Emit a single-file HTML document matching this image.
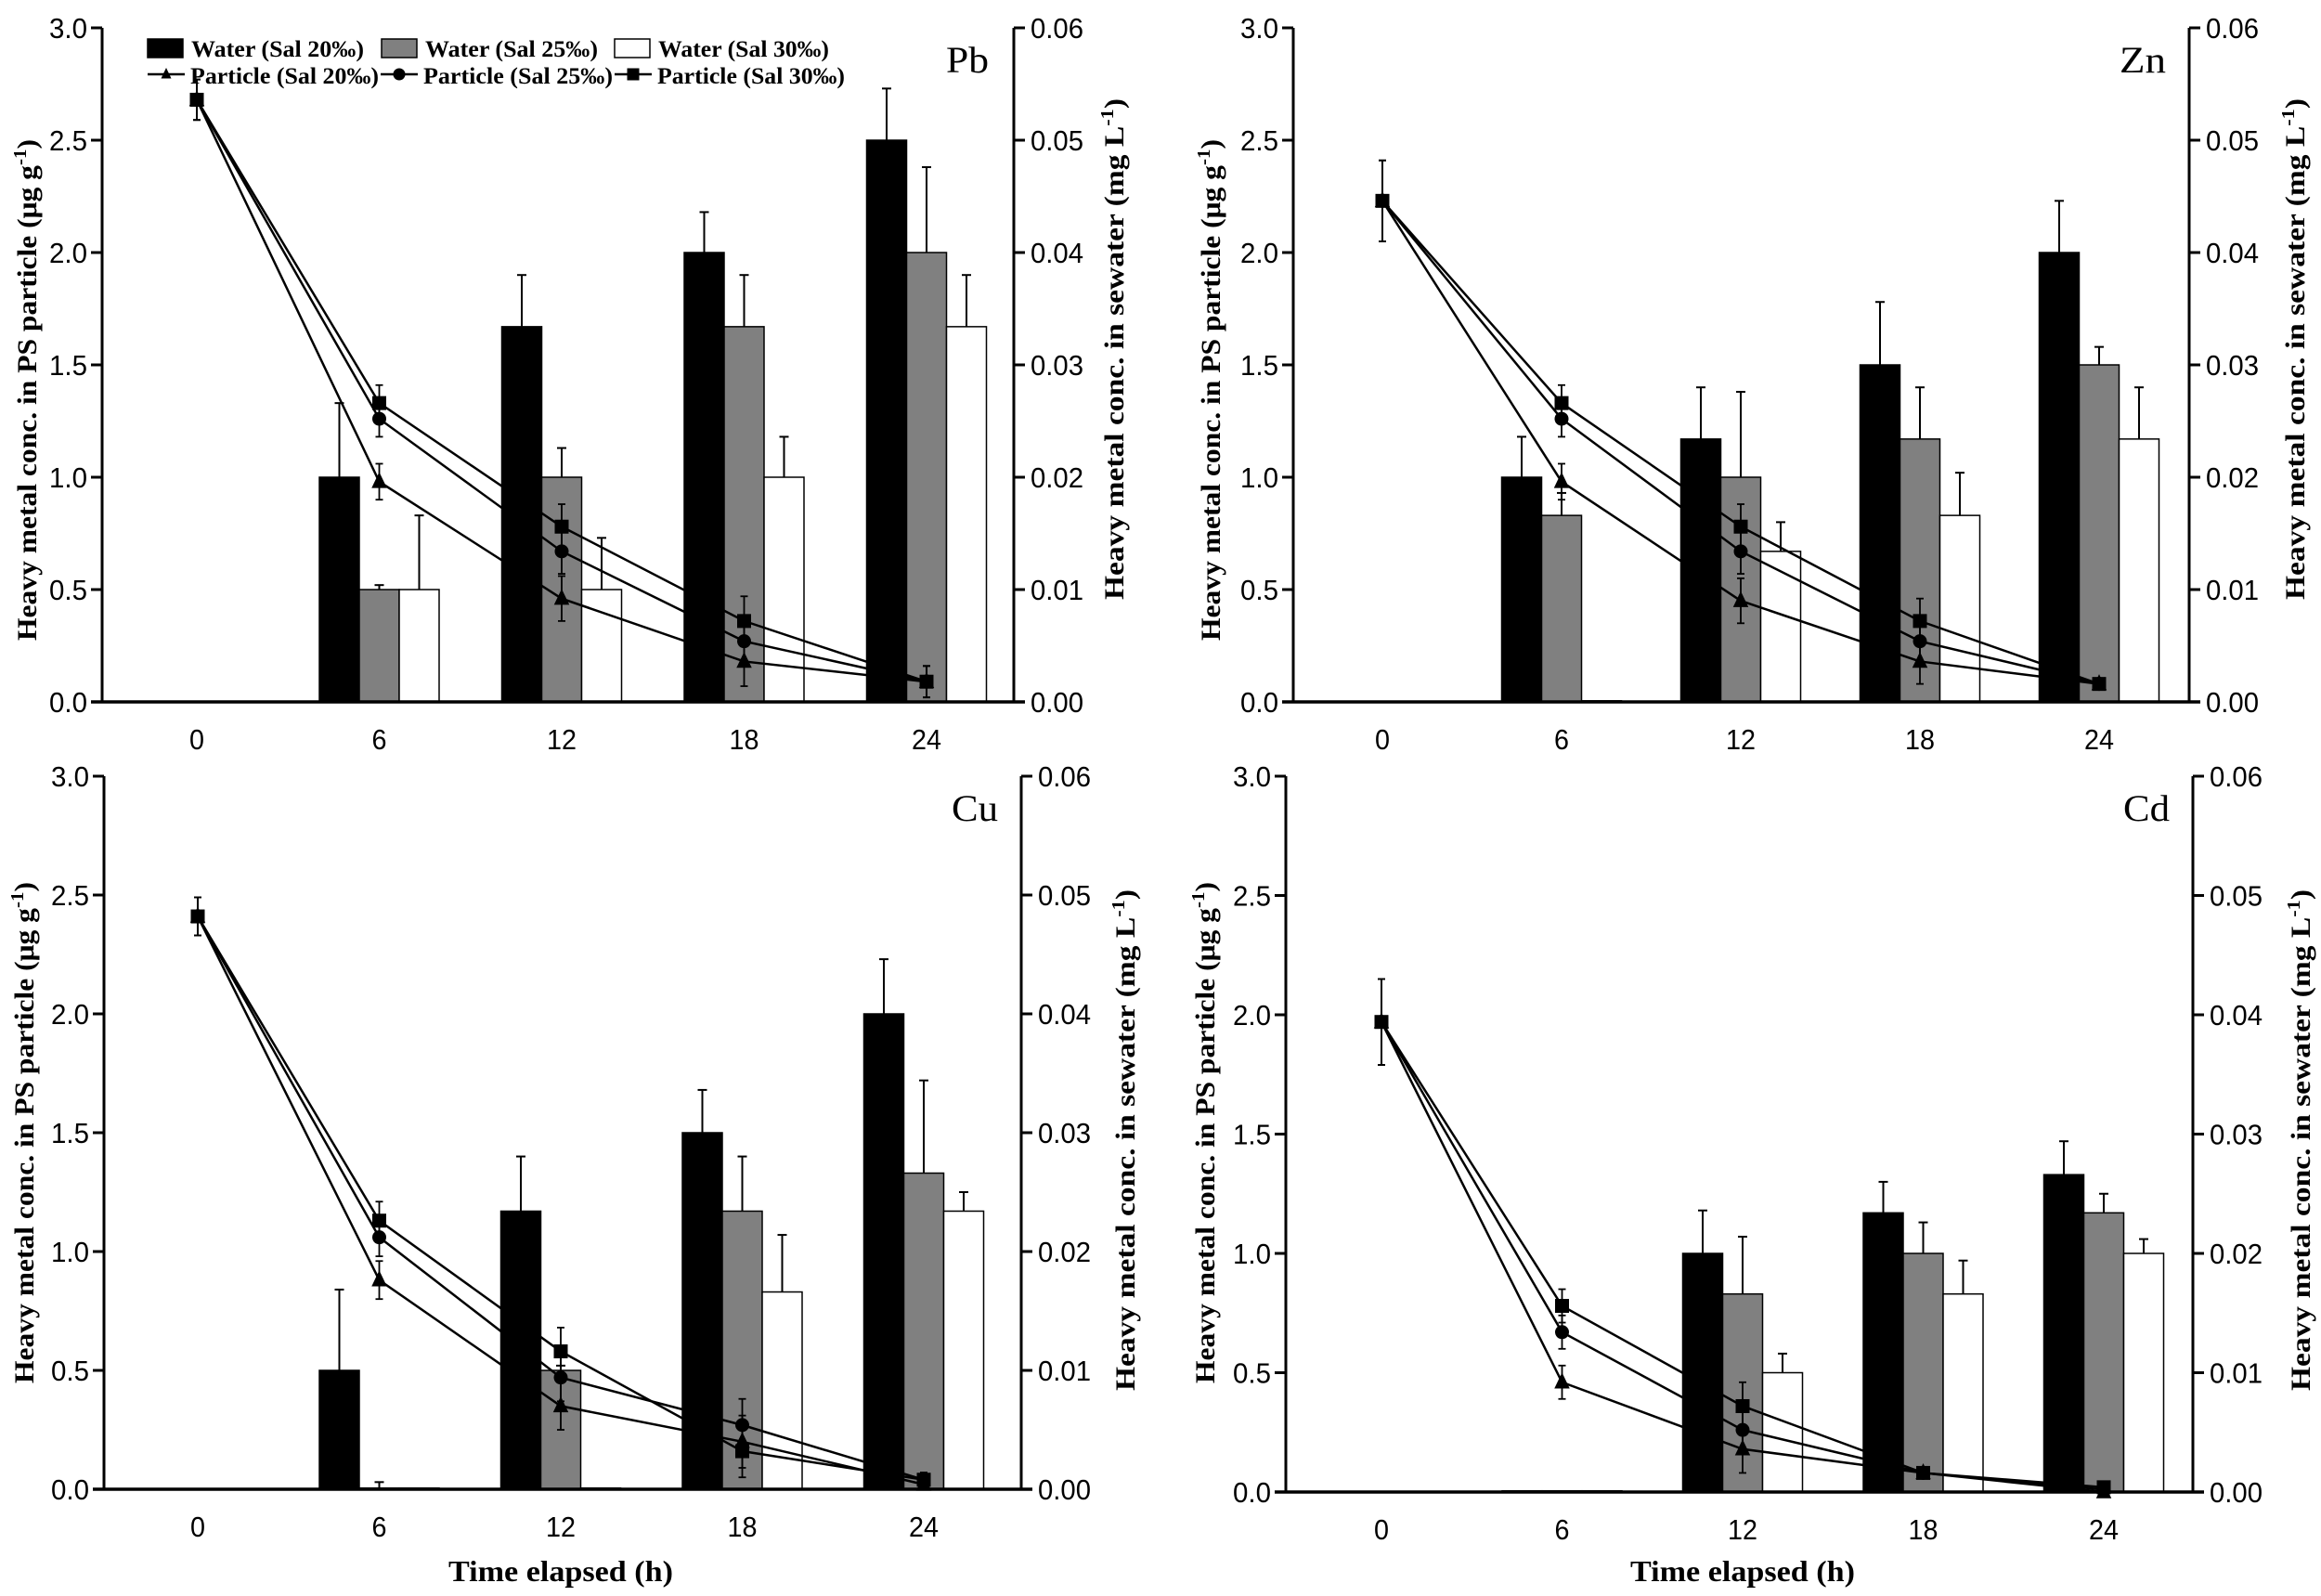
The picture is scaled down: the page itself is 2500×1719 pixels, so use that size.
<!DOCTYPE html>
<html><head><meta charset="utf-8"><style>
html,body{margin:0;padding:0;background:#fff;}
svg{display:block;}
</style></head><body>
<svg id="fig" width="2500" height="1719" viewBox="0 0 2500 1719" xmlns="http://www.w3.org/2000/svg"></svg>
<script>
// ---- data ----
const times = [0, 6, 12, 18, 24];
const metals = ["Pb", "Zn", "Cu", "Cd"];
const leftTicks = ["0.0","0.5","1.0","1.5","2.0","2.5","3.0"];
const rightTicks = ["0.00","0.01","0.02","0.03","0.04","0.05","0.06"];
const seriesNames = ["Sal 20‰","Sal 25‰","Sal 30‰"];

// water bars (left-axis units; right axis = value*0.02), null = no bar
const pbW20 = [null, 1.0, 1.67, 2.0, 2.5];
const pbW25 = [null, 0.5, 1.0, 1.67, 2.0];
const pbW30 = [null, 0.5, 0.5, 1.0, 1.67];
const pbW20e = [0, 1.33, 1.9, 2.18, 2.73];
const pbW25e = [0, 0.52, 1.13, 1.9, 2.38];
const pbW30e = [0, 0.83, 0.73, 1.18, 1.9];
const pbP20 = [2.68, 0.98, 0.46, 0.18, 0.09];
const pbP25 = [2.68, 1.26, 0.67, 0.27, 0.09];
const pbP30 = [2.68, 1.33, 0.78, 0.36, 0.09];
const pbPe = [0.09, 0.08, 0.10, 0.11, 0.07];

const znW20 = [null, 1.0, 1.17, 1.5, 2.0];
const znW25 = [null, 0.83, 1.0, 1.17, 1.5];
const znW30 = [null, 0.005, 0.67, 0.83, 1.17];
const znW20e = [0, 1.18, 1.4, 1.78, 2.23];
const znW25e = [0, 0.93, 1.38, 1.4, 1.58];
const znW30e = [0, 0.005, 0.8, 1.02, 1.4];
const znP20 = [2.23, 0.98, 0.45, 0.18, 0.08];
const znP25 = [2.23, 1.26, 0.67, 0.27, 0.08];
const znP30 = [2.23, 1.33, 0.78, 0.36, 0.08];
const znPe = [0.18, 0.08, 0.1, 0.1, 0.02];

const cuW20 = [null, 0.5, 1.17, 1.5, 2.0];
const cuW25 = [null, 0.005, 0.5, 1.17, 1.33];
const cuW30 = [null, 0.005, 0.005, 0.83, 1.17];
const cuW20e = [0, 0.84, 1.4, 1.68, 2.23];
const cuW25e = [0, 0.03, 0.52, 1.4, 1.72];
const cuW30e = [0, 0.005, 0.005, 1.07, 1.25];
const cuP20 = [2.41, 0.88, 0.35, 0.2, 0.02];
const cuP25 = [2.41, 1.06, 0.47, 0.27, 0.04];
const cuP30 = [2.41, 1.13, 0.58, 0.16, 0.04];
const cuPe = [0.08, 0.08, 0.1, 0.11, 0.03];

const cdW20 = [null, 0.005, 1.0, 1.17, 1.33];
const cdW25 = [null, 0.005, 0.83, 1.0, 1.17];
const cdW30 = [null, 0.005, 0.5, 0.83, 1.0];
const cdW20e = [0, 0.005, 1.18, 1.3, 1.47];
const cdW25e = [0, 0.005, 1.07, 1.13, 1.25];
const cdW30e = [0, 0.005, 0.58, 0.97, 1.06];
const cdP20 = [1.97, 0.46, 0.18, 0.08, 0.0];
const cdP25 = [1.97, 0.67, 0.26, 0.08, 0.01];
const cdP30 = [1.97, 0.78, 0.36, 0.08, 0.02];
const cdPe = [0.18, 0.07, 0.1, 0.02, 0.01];

const NS = "http://www.w3.org/2000/svg";
const svg = document.getElementById("fig");
function mk(tag, attrs, parent) {
  const e = document.createElementNS(NS, tag);
  for (const k in attrs) e.setAttribute(k, attrs[k]);
  (parent || svg).appendChild(e);
  return e;
}
function tlen(s){let w=0;for(const c of s){w+=(c==='.')?9:16;}return w;}

const panels = [
  {name:"Pb", L:110, R:1092, y0:756, y3:30, x0:212, x24:998, ltx:29, rtx:1200, tcy:420, rcy:376,
   w:[pbW20,pbW25,pbW30], we:[pbW20e,pbW25e,pbW30e], p:[pbP20,pbP25,pbP30], pe:pbPe, legend:true, xlabel:false},
  {name:"Zn", L:1393, R:2358, y0:756, y3:30, x0:1489, x24:2261, ltx:1304, rtx:2472, tcy:420, rcy:376,
   w:[znW20,znW25,znW30], we:[znW20e,znW25e,znW30e], p:[znP20,znP25,znP30], pe:znPe, legend:false, xlabel:false},
  {name:"Cu", L:112, R:1100, y0:1604, y3:836, x0:213, x24:995, ltx:26, rtx:1212, tcy:1220, rcy:1228,
   w:[cuW20,cuW25,cuW30], we:[cuW20e,cuW25e,cuW30e], p:[cuP20,cuP25,cuP30], pe:cuPe, legend:false, xlabel:true},
  {name:"Cd", L:1385, R:2362, y0:1607, y3:836, x0:1488, x24:2266, ltx:1298, rtx:2478, tcy:1220, rcy:1228,
   w:[cdW20,cdW25,cdW30], we:[cdW20e,cdW25e,cdW30e], p:[cdP20,cdP25,cdP30], pe:cdPe, legend:false, xlabel:true}
];
const fills = ["#000","#808080","#fff"];

function marker(g, kind, x, y, s) {
  let m;
  if (kind===0) m = mk("polygon",{points:`${x},${y-s*0.7} ${x-s*0.55},${y+s*0.45} ${x+s*0.55},${y+s*0.45}`,fill:"#000"},g);
  else if (kind===1) m = mk("circle",{cx:x,cy:y,r:s*0.5,fill:"#000"},g);
  else m = mk("rect",{x:x-s*0.5,y:y-s*0.5,width:s,height:s,fill:"#000"},g);
  return m;
}

panels.forEach(P=>{
  const g = mk("g",{});
  
  
  const X = t => P.x0 + (P.x24-P.x0)*t/24;
  const Y = v => P.y0 - (P.y0-P.y3)*v/3;
  const bw = 43;

  // bars
  for (let s=0;s<3;s++){
    times.forEach((t,i)=>{
      const v = P.w[s][i]; if (v===null) return;
      const cx = X(t) + (s-1)*bw;
      const e = P.we[s][i];
      if (e > v + 0.01) {
        const eb = mk("g",{},g);
        
        
        mk("line",{x1:cx,y1:Y(v),x2:cx,y2:Y(e),stroke:"#000","stroke-width":2},eb);
        mk("line",{x1:cx-5,y1:Y(e),x2:cx+5,y2:Y(e),stroke:"#000","stroke-width":2},eb);
      }
      const r = mk("rect",{x:cx-bw/2,y:Y(v),width:bw,height:Math.max(Y(0)-Y(v),1.5),fill:fills[s],stroke:"#000","stroke-width":1.5},g);
      
      
    });
  }
  // lines
  for (let s=0;s<3;s++){
    const pts = times.map((t,i)=>X(t)+","+Y(P.p[s][i])).join(" ");
    const pl = mk("polyline",{points:pts,fill:"none",stroke:"#000","stroke-width":2.5},g);
    
    
    times.forEach((t,i)=>{
      const x=X(t), v=P.p[s][i], e=P.pe[i];
      mk("line",{x1:x,y1:Y(v+e),x2:x,y2:Y(Math.max(v-e,0)),stroke:"#000","stroke-width":1.8},g);
      mk("line",{x1:x-4,y1:Y(v+e),x2:x+4,y2:Y(v+e),stroke:"#000","stroke-width":1.8},g);
      mk("line",{x1:x-4,y1:Y(Math.max(v-e,0)),x2:x+4,y2:Y(Math.max(v-e,0)),stroke:"#000","stroke-width":1.8},g);
      const m = marker(g, s, x, Y(v), 15);
      
      
    });
  }
  // axes
  const ax = mk("g",{},g);
  
  
  mk("line",{x1:P.L,y1:P.y3,x2:P.L,y2:P.y0,stroke:"#000","stroke-width":3},ax);
  mk("line",{x1:P.R,y1:P.y3,x2:P.R,y2:P.y0,stroke:"#000","stroke-width":3},ax);
  mk("line",{x1:P.L-12,y1:P.y0,x2:P.R+12,y2:P.y0,stroke:"#000","stroke-width":3.5},ax);
  leftTicks.forEach((lab,i)=>{
    const y = Y(i*0.5);
    mk("line",{x1:P.L-12,y1:y,x2:P.L,y2:y,stroke:"#000","stroke-width":3},ax);
    const t = mk("text",{x:P.L-16,y:y+11,"text-anchor":"end","font-size":31,"font-family":"'Liberation Sans Narrow','Liberation Sans',sans-serif",textLength:tlen(lab),lengthAdjust:"spacingAndGlyphs"},ax);
    t.textContent = lab;
    
    
  });
  rightTicks.forEach((lab,i)=>{
    const y = Y(i*0.5);
    mk("line",{x1:P.R,y1:y,x2:P.R+12,y2:y,stroke:"#000","stroke-width":3},ax);
    const t = mk("text",{x:P.R+18,y:y+11,"font-size":31,"font-family":"'Liberation Sans Narrow','Liberation Sans',sans-serif",textLength:tlen(lab),lengthAdjust:"spacingAndGlyphs"},ax);
    t.textContent = lab;
    
    
  });
  times.forEach(tv=>{
    const lab = String(tv);
    const t = mk("text",{x:X(tv),y:P.y0+51,"text-anchor":"middle","font-size":31,"font-family":"'Liberation Sans Narrow','Liberation Sans',sans-serif",textLength:tlen(lab),lengthAdjust:"spacingAndGlyphs"},ax);
    t.textContent = lab;
    
    
  });
  // titles
  const lt = mk("text",{transform:`translate(${P.ltx+10},${P.tcy}) rotate(-90)`,"text-anchor":"middle","font-size":30,"font-weight":"bold","font-family":"'Liberation Serif',serif",textLength:540,lengthAdjust:"spacingAndGlyphs"},g);
  lt.innerHTML = 'Heavy metal conc. in PS particle (μg g<tspan font-size="20" dy="-11">-1</tspan><tspan dy="11">)</tspan>';
  
  
  const rt = mk("text",{transform:`translate(${P.rtx+10},${P.rcy}) rotate(-90)`,"text-anchor":"middle","font-size":30,"font-weight":"bold","font-family":"'Liberation Serif',serif",textLength:540,lengthAdjust:"spacingAndGlyphs"},g);
  rt.innerHTML = 'Heavy metal conc. in sewater (mg L<tspan font-size="20" dy="-11">-1</tspan><tspan dy="11">)</tspan>';
  
  
  const pn = mk("text",{x:P.R-50,y:P.y3+48,"text-anchor":"middle","font-size":40,"font-family":"'Liberation Serif',serif",textLength:P.name==="Pb"?46:50,lengthAdjust:"spacingAndGlyphs"},g);
  pn.textContent = P.name;
  
  
  if (P.xlabel) {
    const xt = mk("text",{x:(P.x0+P.x24)/2,y:1703,"text-anchor":"middle","font-size":32,"font-weight":"bold","font-family":"'Liberation Serif',serif",textLength:242,lengthAdjust:"spacingAndGlyphs"},g);
    xt.textContent = "Time elapsed (h)";
    
    
  }
  if (P.legend) {
    const lg = mk("g",{},g);
    
    
    const r1x = [159, 411, 662], r1w = [186, 186, 184];
    const r2x = [159, 410, 662], r2w = [203, 204, 202];
    for (let s=0;s<3;s++){
      const e1 = mk("g",{},lg);
      
      
      mk("rect",{x:r1x[s],y:42,width:38,height:20,fill:fills[s],stroke:"#000","stroke-width":1.5},e1);
      const t1 = mk("text",{x:r1x[s]+47,y:61,"font-size":25,"font-weight":"bold","font-family":"'Liberation Serif',serif",textLength:r1w[s],lengthAdjust:"spacingAndGlyphs"},e1);
      t1.textContent = "Water (" + seriesNames[s] + ")";
      const e2 = mk("g",{},lg);
      
      
      mk("line",{x1:r2x[s],y1:80,x2:r2x[s]+40,y2:80,stroke:"#000","stroke-width":2.5},e2);
      marker(e2, s, r2x[s]+20, 80, s===0?10:13);
      const t2 = mk("text",{x:r2x[s]+46,y:90,"font-size":25,"font-weight":"bold","font-family":"'Liberation Serif',serif",textLength:r2w[s],lengthAdjust:"spacingAndGlyphs"},e2);
      t2.textContent = "Particle (" + seriesNames[s] + ")";
    }
  }
});
</script>
</body></html>
